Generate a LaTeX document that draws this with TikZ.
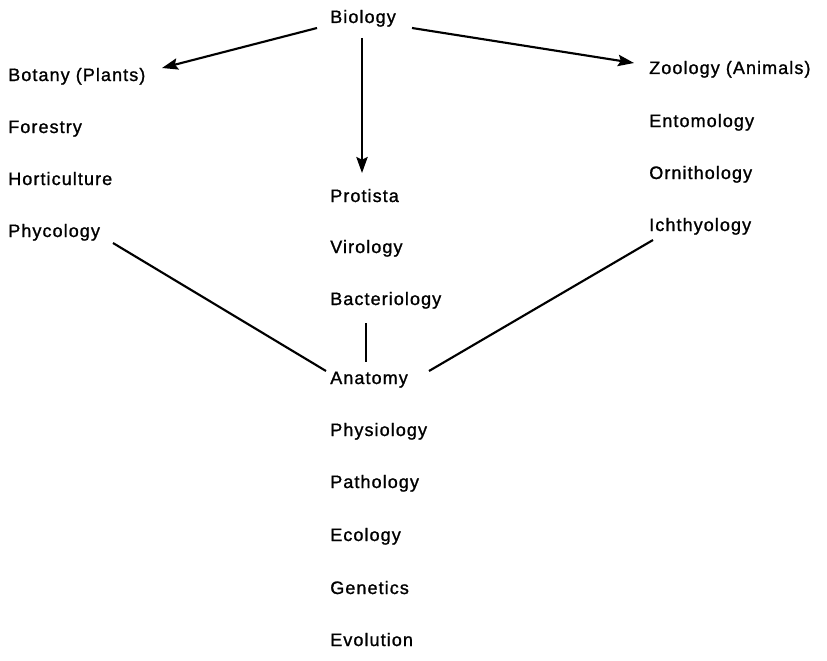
\documentclass[tikz,border=0pt]{standalone}
\usepackage{fontspec}
\setmainfont{Liberation Sans}[LetterSpace=6,FakeBold=1.2]
\usetikzlibrary{arrows.meta,calc}
\begin{document}
\begin{tikzpicture}[x=0.75pt,y=-0.75pt,
  lbl/.style={anchor=base west,inner sep=0pt,font=\fontsize{13.5}{16}\selectfont},
  conn/.style={line width=1.6pt},
  arr/.style={conn,-{Stealth[length=12pt,width=8.5pt,inset=2pt]}}]
\useasboundingbox (0,0) rectangle (827,660);
% centre column
\node[lbl] (bio) at (330,23) {Biology};
\node[lbl] (pro) at (330,202) {Protista};
\node[lbl] (vir) at (330,253) {Virology};
\node[lbl] (bac) at (330,305) {Bacteriology};
\node[lbl] (ana) at (330,384) {Anatomy};
\node[lbl] (phs) at (330,436) {Physiology};
\node[lbl] (pat) at (330,488) {Pathology};
\node[lbl] (eco) at (330,541) {Ecology};
\node[lbl] (gen) at (330,594) {Genetics};
\node[lbl] (evo) at (330,646) {Evolution};
% left column
\node[lbl] (bot) at (8,81) {Botany (Plants)};
\node[lbl] (for) at (8,133) {Forestry};
\node[lbl] (hor) at (8,185) {Horticulture};
\node[lbl] (phy) at (8,237) {Phycology};
% right column
\node[lbl] (zoo) at (649,74) {Zoology (Animals)};
\node[lbl] (ent) at (649,127) {Entomology};
\node[lbl] (orn) at (649,179) {Ornithology};
\node[lbl] (ich) at (649,231) {Ichthyology};
% connectors
\draw[arr] ($(bio.base west)+(-13,5)$) -- ($(bot.base west)+(154,-13)$);
\draw[arr] ($(bio.base west)+(82,5)$) -- ($(zoo.base west)+(-15,-11)$);
\draw[arr] ($(bio.base west)+(32,15)$) -- ($(pro.base west)+(32,-29)$);
\draw[conn] ($(bac.base west)+(36,18)$) -- ($(ana.base west)+(36,-22)$);
\draw[conn] ($(phy.base west)+(105,6)$) -- ($(ana.base west)+(-4,-13)$);
\draw[conn] ($(ich.base west)+(4,9)$) -- ($(ana.base west)+(99,-13)$);
\end{tikzpicture}
\end{document}
